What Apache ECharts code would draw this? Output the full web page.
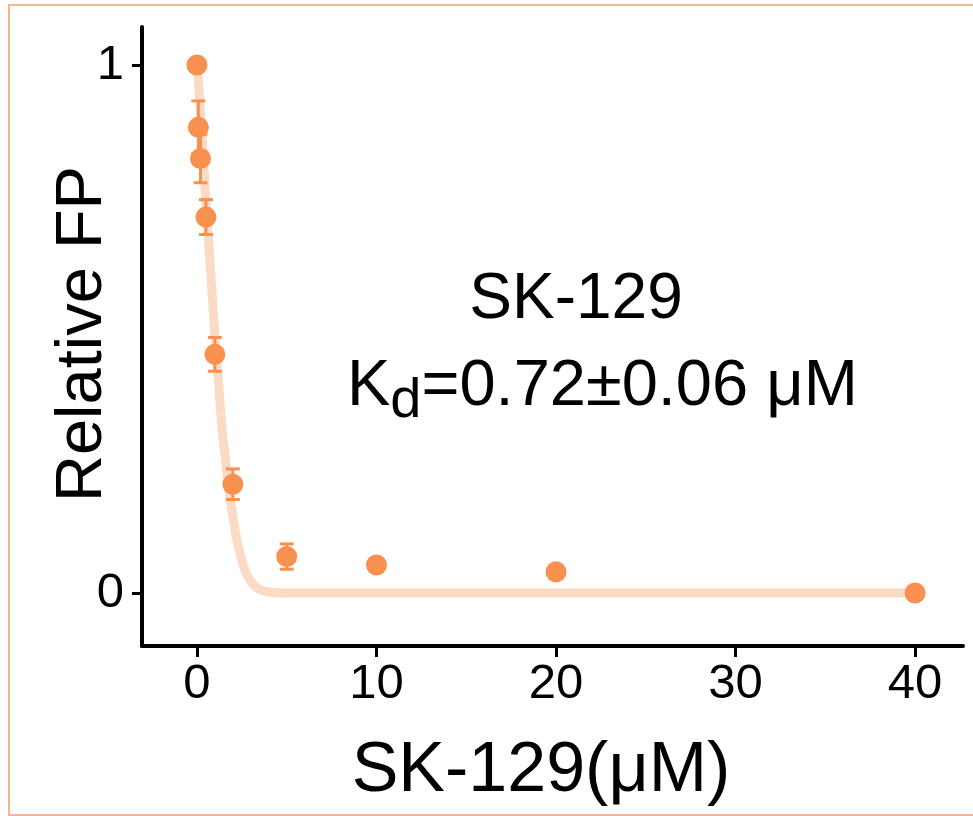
<!DOCTYPE html>
<html>
<head>
<meta charset="utf-8">
<script src="https://cdn.jsdelivr.net/npm/echarts@6/dist/echarts.min.js"></script>
<style>
  html, body { margin: 0; padding: 0; background: #ffffff; }
  #chart { width: 973px; height: 816px; }
</style>
</head>
<body>
<div id="chart"></div>
<script>
// Measured binding data: SK-129 concentration (µM) vs. relative fluorescence polarisation
const concentrations = [0, 0.08, 0.2, 0.5, 1, 2, 5, 10, 20, 40];
const relativeFP     = [1.0, 0.882, 0.823, 0.712, 0.452, 0.206, 0.069, 0.053, 0.040, 0.0];
const fpError        = [0, 0.05, 0.046, 0.033, 0.032, 0.029, 0.024, 0, 0, 0];

// Fitted binding curve
const fitX = [0, 0.1, 0.2, 0.3, 0.4, 0.5, 0.6, 0.7, 0.8, 0.9, 1.0, 1.1, 1.2, 1.4, 1.6, 1.8,
              2.0, 2.2, 2.4, 2.6, 2.8, 3.0, 3.3, 3.6, 4.0, 4.5, 5, 40];
const fitY = [1.0, 0.96, 0.91, 0.86, 0.80, 0.74, 0.69, 0.64, 0.59, 0.54, 0.49, 0.44, 0.40, 0.31, 0.25, 0.19,
              0.145, 0.105, 0.075, 0.05, 0.033, 0.022, 0.011, 0.005, 0.002, 0.0005, 0, 0];

// Axis tick values
const xTicks = [0, 10, 20, 30, 40];
const yTicks = [0, 1];

const pointColor = '#F8904F';
const curveColor = '#FCDBC6';
const font = '"Liberation Sans", Arial, sans-serif';

const chart = echarts.init(document.getElementById('chart'), null, { renderer: 'canvas' });

const points = concentrations.map((c, i) => [c, relativeFP[i]]);
const bars = concentrations.map((c, i) => [c, relativeFP[i], fpError[i]]);
const curve = fitX.map((x, i) => [x, fitY[i]]);

// Kd annotation is laid out piece by piece so the subscript sits below the baseline
const ctx = document.createElement('canvas').getContext('2d');
function textWidth(str, size) {
  ctx.font = size + 'px ' + font;
  return ctx.measureText(str).width;
}
const kdLeft = 347, kdMid = 387, mainSize = 65, subSize = 56;
const kWidth = textWidth('K', mainSize);
const dWidth = textWidth('d', subSize);

chart.setOption({
  backgroundColor: '#ffffff',
  animation: false,
  grid: { left: 142, top: 27, width: 821, height: 619, containLabel: false },
  xAxis: {
    type: 'value',
    min: -3.06,
    max: 42.67,
    splitLine: { show: false },
    axisLine: { show: true, onZero: false, lineStyle: { color: '#000', width: 4 } },
    axisTick: { show: true, customValues: xTicks, length: 11, lineStyle: { color: '#000', width: 3 } },
    axisLabel: { customValues: xTicks, color: '#000', fontSize: 49, fontFamily: font, margin: 14 }
  },
  yAxis: {
    type: 'value',
    min: -0.1004,
    max: 1.072,
    splitLine: { show: false },
    axisLine: { show: true, onZero: false, lineStyle: { color: '#000', width: 4 } },
    axisTick: { show: true, customValues: yTicks, length: 10, lineStyle: { color: '#000', width: 3 } },
    axisLabel: { customValues: yTicks, color: '#000', fontSize: 49, fontFamily: font, margin: 18 }
  },
  series: [
    {
      type: 'line',
      data: curve,
      smooth: 0.3,
      showSymbol: false,
      lineStyle: { color: curveColor, width: 9, cap: 'round', join: 'round' },
      z: 1
    },
    {
      type: 'custom',
      data: bars,
      encode: { x: 0, y: 1 },
      renderItem: function (params, api) {
        const x = api.value(0), y = api.value(1), e = api.value(2);
        if (!e) return null;
        const top = api.coord([x, y + e]);
        const bot = api.coord([x, y - e]);
        const half = 7;
        const style = { stroke: pointColor, lineWidth: 3 };
        return {
          type: 'group',
          children: [
            { type: 'line', shape: { x1: top[0], y1: top[1], x2: bot[0], y2: bot[1] }, style: style },
            { type: 'line', shape: { x1: top[0] - half, y1: top[1], x2: top[0] + half, y2: top[1] }, style: style },
            { type: 'line', shape: { x1: bot[0] - half, y1: bot[1], x2: bot[0] + half, y2: bot[1] }, style: style }
          ]
        };
      },
      z: 2
    },
    {
      type: 'scatter',
      data: points,
      symbol: 'circle',
      symbolSize: 21,
      itemStyle: { color: pointColor, opacity: 1 },
      z: 3
    }
  ],
  graphic: [
    {
      type: 'rect',
      shape: { x: 9, y: 5, width: 990, height: 810 },
      style: { fill: 'none', stroke: '#F2B792', lineWidth: 2 },
      silent: true
    },
    {
      type: 'text',
      x: 83, y: 334,
      rotation: Math.PI / 2,
      style: { text: 'Relative FP', font: '65px ' + font, fill: '#000', textAlign: 'center', textVerticalAlign: 'middle' }
    },
    {
      type: 'text',
      x: 541, y: 772,
      style: { text: 'SK-129(μM)', font: '70px ' + font, fill: '#000', textAlign: 'center', textVerticalAlign: 'middle' }
    },
    {
      type: 'text',
      x: 576, y: 300,
      style: { text: 'SK-129', font: '64px ' + font, fill: '#000', textAlign: 'center', textVerticalAlign: 'middle' }
    },
    {
      type: 'text',
      x: kdLeft, y: kdMid,
      style: { text: 'K', font: mainSize + 'px ' + font, fill: '#000', textAlign: 'left', textVerticalAlign: 'middle' }
    },
    {
      type: 'text',
      x: kdLeft + kWidth, y: kdMid + 15,
      style: { text: 'd', font: subSize + 'px ' + font, fill: '#000', textAlign: 'left', textVerticalAlign: 'middle' }
    },
    {
      type: 'text',
      x: kdLeft + kWidth + dWidth, y: kdMid,
      style: { text: '=0.72±0.06 μM', font: mainSize + 'px ' + font, fill: '#000', textAlign: 'left', textVerticalAlign: 'middle' }
    }
  ]
});
</script>
</body>
</html>
